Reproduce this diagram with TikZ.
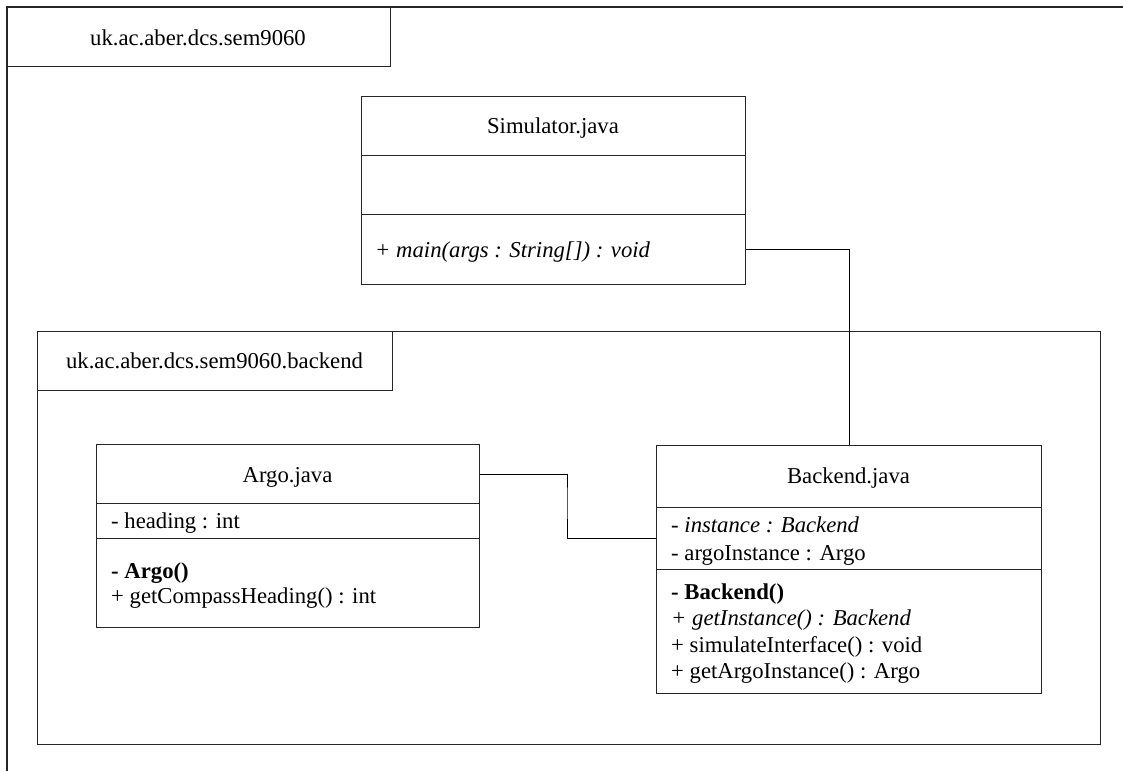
\documentclass[tikz,border=0pt]{standalone}
\usepackage{fontspec}
\setmainfont{Liberation Serif}
\begin{document}
\begin{tikzpicture}[x=1pt,y=-1pt,
  frame/.style={line width=1.1pt, draw=black!85},
  box/.style={draw=black!85, line width=1pt, rectangle, inner sep=0pt, anchor=north west},
  link/.style={draw=black, line width=0.9pt},
  lbl/.style={inner sep=0pt, font=\fontsize{22.7}{27}\selectfont},
  title/.style={lbl, anchor=base},
  member/.style={lbl, anchor=base west}
]
\useasboundingbox (0,0) rectangle (1123,771);

% root package frame (open to the right and bottom)
\draw[frame] (7,771) -- (7,7) -- (1123,7);
\node[box, minimum width=383pt, minimum height=59pt] (rootTab) at (7,7) {};
\node[title] (rootName) at (198,45) {uk.ac.aber.dcs.sem9060};

% backend package
\node[box, minimum width=1063pt, minimum height=413pt] (pkg) at (37,331) {};
\node[box, minimum width=355pt, minimum height=59pt] (pkgTab) at (37,331) {};
\node[title] (pkgName) at (214.5,368) {uk.ac.aber.dcs.sem9060.backend};

% Simulator class
\node[box, minimum width=384pt, minimum height=59pt] (simT) at (361,96) {};
\node[box, minimum width=384pt, minimum height=59pt] (simA) at (361,155) {};
\node[box, minimum width=384pt, minimum height=70pt] (simM) at (361,214) {};
\node[title] (simName) at (553,133) {Simulator.java};
\node[member] (simMain) at (375,257) {\itshape + main(args : String[]) : void};

% Argo class
\node[box, minimum width=383pt, minimum height=59pt] (argoT) at (96,444) {};
\node[box, minimum width=383pt, minimum height=35pt] (argoA) at (96,503) {};
\node[box, minimum width=383pt, minimum height=89pt] (argoM) at (96,538) {};
\node[title] (argoName) at (287.5,482) {Argo.java};
\node[member] (argoHeading) at (111,528) {- heading : int};
\node[member] (argoCtor) at (111,578) {\bfseries - Argo()};
\node[member] (argoCompass) at (111,603) {+ getCompassHeading() : int};

% Backend class
\node[box, minimum width=385pt, minimum height=62pt] (backT) at (656,445) {};
\node[box, minimum width=385pt, minimum height=62pt] (backA) at (656,507) {};
\node[box, minimum width=385pt, minimum height=124pt] (backM) at (656,569) {};
\node[title] (backName) at (848.5,483.5) {Backend.java};
\node[member] (backInst) at (671,532) {\itshape - instance : Backend};
\node[member] (backArgo) at (671,560) {- argoInstance : Argo};
\node[member] (backCtor) at (671,599) {\bfseries - Backend()};
\node[member] (backGetInst) at (671,625) {\itshape + getInstance() : Backend};
\node[member] (backSim) at (671,652) {+ simulateInterface() : void};
\node[member] (backGetArgo) at (671,678) {+ getArgoInstance() : Argo};

% associations
\draw[link] (simM.east) -| (backT.north);
\coordinate (bend) at (567,500);
\draw[link] (argoT.east) -| (bend) |- (backA.west);
\end{tikzpicture}
\end{document}
